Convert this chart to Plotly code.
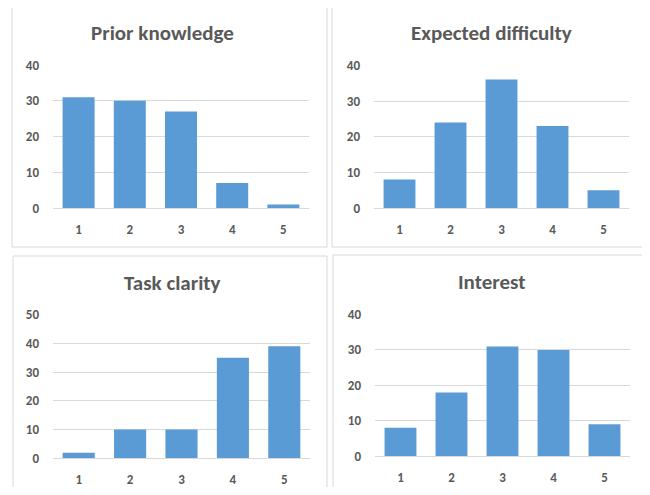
import plotly.graph_objects as go

categories = ["1", "2", "3", "4", "5"]
prior_knowledge = [31, 30, 27, 7, 1]
expected_difficulty = [8, 24, 36, 23, 5]
task_clarity = [2, 10, 10, 35, 39]
interest = [8, 18, 31, 30, 9]
titles = ["Prior knowledge", "Expected difficulty", "Task clarity", "Interest"]
y_max = [40, 40, 50, 40]

OFF = 8                      # body margin of the page
W, H = 650 - 2 * OFF, 495 - 2 * OFF
SY, CY = 0.9675, 7.5         # vertical mapping of the photographed page
BAR = "#5B9BD5"
GRID = "#D9D9D9"
TXT = "#595959"
FONT = "Calibri, Carlito, Lato, sans-serif"

def px_x(v):
    return (v - OFF) / W

def px_y(v):
    true_y = (v - CY) / SY
    return 1 - (true_y - OFF) / H

# plot areas in picture pixels: (x0, x1, ytop, ybottom)
areas = [(53, 309, 65.5, 209), (374, 629, 65.7, 209),
         (53, 310, 315.7, 460), (375, 630, 315.7, 457.7)]
panels = [(12, 7, 327, 248), (332, 7, 660, 248), (13, 257, 327, 520), (333, 256, 660, 520)]
title_pos = [(162, 33), (491, 33), (172, 284), (492, 283)]
series = [prior_knowledge, expected_difficulty, task_clarity, interest]

fig = go.Figure()
layout = dict(width=W, height=H, margin=dict(l=0, r=0, t=0, b=0),
              paper_bgcolor="white", plot_bgcolor="white", showlegend=False,
              bargap=0.375, shapes=[], annotations=[])

for i, vals in enumerate(series):
    n = "" if i == 0 else str(i + 1)
    fig.add_trace(go.Bar(x=categories, y=vals, xaxis="x" + n, yaxis="y" + n,
                         marker=dict(color=BAR, line=dict(width=0)), hoverinfo="x+y"))
    x0, x1, yt, yb = areas[i]
    layout["xaxis" + n] = dict(domain=[max(0, px_x(x0)), min(1, px_x(x1))], anchor="y" + n,
                               type="category", showgrid=False, zeroline=False,
                               showline=True, linecolor=GRID, linewidth=1, ticks="",
                               tickfont=dict(family=FONT, size=13, color=TXT, weight="bold"),
                               ticklabelstandoff=9, fixedrange=True)
    layout["yaxis" + n] = dict(domain=[max(0, px_y(yb)), min(1, px_y(yt))], anchor="x" + n,
                               range=[0, y_max[i]], dtick=10, showgrid=True,
                               gridcolor=GRID, gridwidth=1, zeroline=False,
                               showline=False, ticks="",
                               tickfont=dict(family=FONT, size=13, color=TXT, weight="bold"),
                               ticklabelstandoff=13, fixedrange=True)
    px0, py0, px1, py1 = panels[i]
    layout["shapes"].append(dict(type="rect", xref="paper", yref="paper",
                                 x0=px_x(px0), x1=px_x(px1), y0=px_y(py1), y1=px_y(py0),
                                 line=dict(color=GRID, width=1), fillcolor="rgba(0,0,0,0)",
                                 layer="below"))
    tx, ty = title_pos[i]
    layout["annotations"].append(dict(text=titles[i], xref="paper", yref="paper",
                                      x=px_x(tx), y=px_y(ty), xanchor="center", yanchor="middle",
                                      showarrow=False,
                                      font=dict(family=FONT, size=21, color=TXT, weight="bold")))

fig.update_layout(**layout)
fig.write_html("out.html")
